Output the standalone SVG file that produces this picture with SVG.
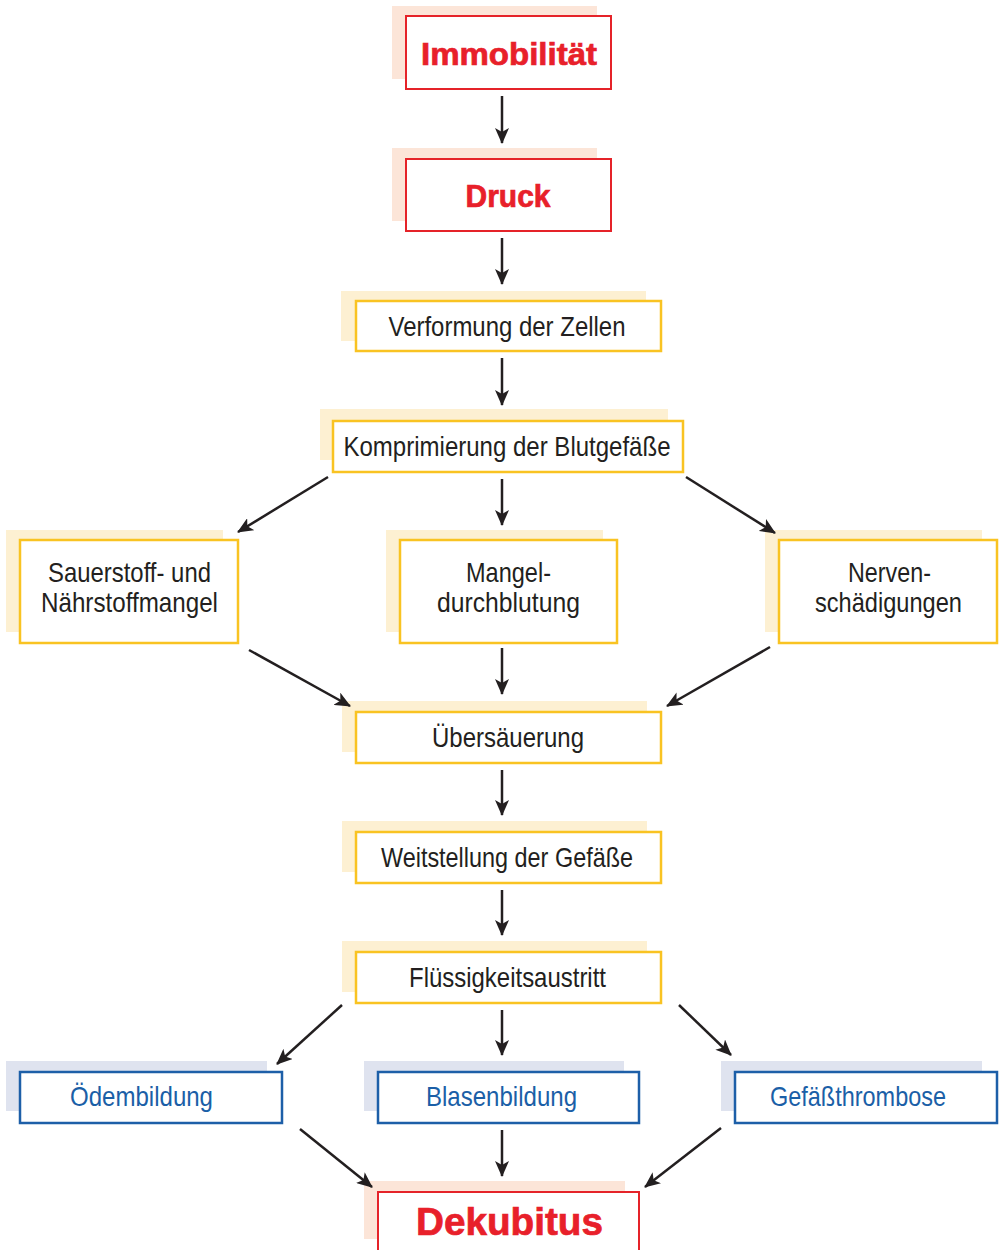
<svg xmlns="http://www.w3.org/2000/svg" width="1003" height="1250" viewBox="0 0 1003 1250">
<style>
.bg{fill:#ffffff}
.shR{fill:#fce5d8}
.shY{fill:#fdf0d2}
.shB{fill:#dfe3ef}
.bxR{fill:#ffffff;stroke:#e52329;stroke-width:2}
.bxY{fill:#ffffff;stroke:#f9c322;stroke-width:2.5}
.bxB{fill:#ffffff;stroke:#1d5fa8;stroke-width:2.5}
.tR{font-family:"Liberation Sans","Arial",sans-serif;font-weight:bold;fill:#e8202a;stroke:#e8202a;stroke-width:0.7;text-anchor:middle}
.tK{font-family:"Liberation Sans Narrow","Liberation Sans",sans-serif;font-size:28px;fill:#231f20;text-anchor:middle}
.tB{font-family:"Liberation Sans Narrow","Liberation Sans",sans-serif;font-size:28px;fill:#1b5fa7;text-anchor:middle}
.con line{stroke:#231f20;stroke-width:2.5;marker-end:url(#ah)}
</style>
<defs>
<marker id="ah" viewBox="0 0 16 14" refX="15" refY="7" markerWidth="16" markerHeight="14" markerUnits="userSpaceOnUse" orient="auto">
<path d="M0,0 L16,7 L0,14 L4,7 z" fill="#231f20"/>
</marker>
</defs>
<rect class="bg" x="0" y="0" width="1003" height="1250"/>

<g id="n-immobilitaet">
<rect class="shR" x="392" y="6" width="205" height="73"/>
<rect class="bxR" x="406" y="16" width="205" height="73"/>
<text class="tR" x="509" y="65" font-size="31" textLength="176" lengthAdjust="spacingAndGlyphs">Immobilität</text>
</g>
<g id="n-druck">
<rect class="shR" x="392" y="148" width="205" height="73"/>
<rect class="bxR" x="406" y="159" width="205" height="72"/>
<text class="tR" x="508" y="207" font-size="31" textLength="85" lengthAdjust="spacingAndGlyphs">Druck</text>
</g>
<g id="n-verformung">
<rect class="shY" x="341" y="291" width="305" height="50"/>
<rect class="bxY" x="356" y="301" width="305" height="50"/>
<text class="tK" x="507" y="336" textLength="237" lengthAdjust="spacingAndGlyphs">Verformung der Zellen</text>
</g>
<g id="n-komprimierung">
<rect class="shY" x="320" y="409" width="348" height="51"/>
<rect class="bxY" x="333" y="421" width="350" height="51"/>
<text class="tK" x="507" y="456" textLength="327" lengthAdjust="spacingAndGlyphs">Komprimierung der Blutgefäße</text>
</g>
<g id="n-sauerstoff">
<rect class="shY" x="6" y="530" width="217" height="102"/>
<rect class="bxY" x="20" y="540" width="218" height="103"/>
<text class="tK" x="129.5" y="582" textLength="163" lengthAdjust="spacingAndGlyphs">Sauerstoff- und</text>
<text class="tK" x="129.5" y="612" textLength="177" lengthAdjust="spacingAndGlyphs">Nährstoffmangel</text>
</g>
<g id="n-mangeldurchblutung">
<rect class="shY" x="386" y="530" width="217" height="102"/>
<rect class="bxY" x="400" y="540" width="217" height="103"/>
<text class="tK" x="508.5" y="582" textLength="85" lengthAdjust="spacingAndGlyphs">Mangel-</text>
<text class="tK" x="508.5" y="612" textLength="143" lengthAdjust="spacingAndGlyphs">durchblutung</text>
</g>
<g id="n-nerven">
<rect class="shY" x="765" y="530" width="217" height="102"/>
<rect class="bxY" x="779" y="540" width="218" height="103"/>
<text class="tK" x="889.5" y="582" textLength="83" lengthAdjust="spacingAndGlyphs">Nerven-</text>
<text class="tK" x="888.5" y="612" textLength="147" lengthAdjust="spacingAndGlyphs">schädigungen</text>
</g>
<g id="n-uebersaeuerung">
<rect class="shY" x="342" y="701" width="305" height="51"/>
<rect class="bxY" x="356" y="712" width="305" height="51"/>
<text class="tK" x="508" y="747" textLength="152" lengthAdjust="spacingAndGlyphs">Übersäuerung</text>
</g>
<g id="n-weitstellung">
<rect class="shY" x="342" y="821" width="305" height="51"/>
<rect class="bxY" x="356" y="832" width="305" height="51"/>
<text class="tK" x="507" y="867" textLength="252" lengthAdjust="spacingAndGlyphs">Weitstellung der Gefäße</text>
</g>
<g id="n-fluessigkeit">
<rect class="shY" x="342" y="941" width="305" height="51"/>
<rect class="bxY" x="356" y="952" width="305" height="51"/>
<text class="tK" x="507.5" y="987" textLength="197" lengthAdjust="spacingAndGlyphs">Flüssigkeitsaustritt</text>
</g>
<g id="n-oedembildung">
<rect class="shB" x="6" y="1061" width="261" height="50"/>
<rect class="bxB" x="20" y="1072" width="262" height="51"/>
<text class="tB" x="141.5" y="1106" textLength="143" lengthAdjust="spacingAndGlyphs">Ödembildung</text>
</g>
<g id="n-blasenbildung">
<rect class="shB" x="364" y="1061" width="260" height="50"/>
<rect class="bxB" x="378" y="1072" width="261" height="51"/>
<text class="tB" x="501.5" y="1106" textLength="151" lengthAdjust="spacingAndGlyphs">Blasenbildung</text>
</g>
<g id="n-gefaessthrombose">
<rect class="shB" x="721" y="1061" width="261" height="50"/>
<rect class="bxB" x="735" y="1072" width="262" height="51"/>
<text class="tB" x="858" y="1106" textLength="176" lengthAdjust="spacingAndGlyphs">Gefäßthrombose</text>
</g>
<g id="n-dekubitus">
<rect class="shR" x="364" y="1181" width="261" height="58"/>
<rect class="bxR" x="378" y="1192" width="261" height="62"/>
<text class="tR" x="509.5" y="1235" font-size="39" textLength="187" lengthAdjust="spacingAndGlyphs">Dekubitus</text>
</g>

<g id="connectors" class="con">
<line x1="502" y1="96" x2="502" y2="143"/>
<line x1="502" y1="238" x2="502" y2="284"/>
<line x1="502" y1="358" x2="502" y2="405"/>
<line x1="328" y1="477" x2="238" y2="532"/>
<line x1="502" y1="479" x2="502" y2="525"/>
<line x1="686" y1="477" x2="775" y2="533"/>
<line x1="249" y1="650" x2="350" y2="706"/>
<line x1="502" y1="648" x2="502" y2="694"/>
<line x1="770" y1="647" x2="667" y2="706"/>
<line x1="502" y1="770" x2="502" y2="815"/>
<line x1="502" y1="890" x2="502" y2="935"/>
<line x1="342" y1="1005" x2="277" y2="1064"/>
<line x1="502" y1="1010" x2="502" y2="1055"/>
<line x1="679" y1="1005" x2="731" y2="1055"/>
<line x1="300" y1="1129" x2="372" y2="1187"/>
<line x1="502" y1="1130" x2="502" y2="1176"/>
<line x1="721" y1="1128" x2="645" y2="1187"/>
</g>
</svg>
